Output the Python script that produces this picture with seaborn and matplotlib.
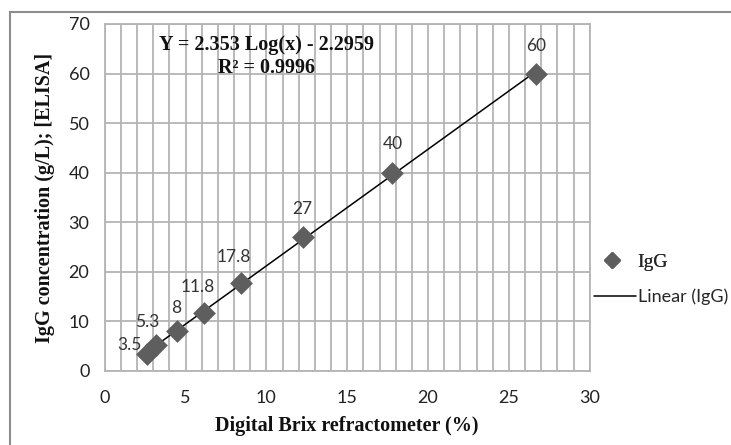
import matplotlib.pyplot as plt
import matplotlib.patches as mpatches
import matplotlib.lines as mlines
from matplotlib.ticker import MultipleLocator
import seaborn as sns
import numpy as np
import pandas as pd

# значения
brix = [2.6, 3.2, 4.45, 6.15, 8.45, 12.25, 17.8, 26.7]
igg = [3.5, 5.3, 8, 11.8, 17.8, 27, 40, 60]
point_labels = ['3.5', '5.3', '8', '11.8', '17.8', '27', '40', '60']
label_offsets = [(-17, 9), (-9, 23), (0, 23), (-6, 26), (-7, 26), (0, 28), (0, 29), (0, 28)]
x_ticks = [0, 5, 10, 15, 20, 25, 30]
y_ticks = [0, 10, 20, 30, 40, 50, 60, 70]

dataset = pd.DataFrame({'brix': brix, 'igg': igg})

sns.set_style('white')
plt.rcParams['font.family'] = ['Lato', 'DejaVu Sans']

fig = plt.figure(figsize=(7.31, 4.45), dpi=100)
ax = fig.add_axes([0.1432, 0.1663, 0.6635, 0.7798])

grid_color = '#b4b4b4'
point_color = '#5e5e5e'
serif = 'Liberation Serif'

sns.regplot(data=dataset, x='brix', y='igg', scatter=False, ci=None, truncate=True,
            line_kws={'color': 'black', 'linewidth': 1.1}, ax=ax)
sns.scatterplot(data=dataset, x='brix', y='igg', marker='D', s=135, color=point_color,
                edgecolor=point_color, linewidth=0, zorder=3, ax=ax)

for xv, yv, lab, off in zip(brix, igg, point_labels, label_offsets):
    ax.annotate(lab, (xv, yv), xytext=off, textcoords='offset pixels',
                ha='center', va='center', fontsize=12.5, color='#333333')

ax.set_xlim(0, 30)
ax.set_ylim(0, 70)
ax.set_xticks(x_ticks)
ax.set_yticks(y_ticks)
ax.xaxis.set_minor_locator(MultipleLocator(1))
ax.grid(True, which='major', color=grid_color, linewidth=1.3)
ax.grid(True, which='minor', axis='x', color=grid_color, linewidth=1.3)
ax.set_axisbelow(True)
for sp in ax.spines.values():
    sp.set_color(grid_color)
    sp.set_linewidth(1.3)
ax.tick_params(axis='both', which='major', length=5, width=1.3, color='#9a9a9a',
               labelsize=13, labelcolor='#222222', pad=6)
ax.tick_params(axis='x', which='major', pad=9)
ax.tick_params(axis='both', which='minor', length=0)

ax.set_xlabel('Digital Brix refractometer (%)', family=serif,
              fontweight='bold', fontsize=14.5, color='#111111', labelpad=7)
ax.set_ylabel('IgG concentration (g/L); [ELISA]', family=serif,
              fontweight='bold', fontsize=14.5, color='#111111', labelpad=10)

ax.text(0.333, 0.94, 'Y = 2.353 Log(x) - 2.2959', transform=ax.transAxes,
        ha='center', va='center', family=serif, fontweight='bold',
        fontsize=14.5, color='#111111')
ax.text(0.333, 0.873, 'R² = 0.9996', transform=ax.transAxes,
        ha='center', va='center', family=serif, fontweight='bold',
        fontsize=14.5, color='#111111')

# легенда справа, две строки по отдельности
h_pts = mlines.Line2D([], [], marker='D', linestyle='none', color=point_color, markersize=8)
h_line = mlines.Line2D([], [], color='black', linewidth=1.1)
leg1 = fig.legend([h_pts], ['IgG'], loc='center left', bbox_to_anchor=(0.816, 1 - 262 / 445),
                  frameon=False, handlelength=1.6, handletextpad=0.5, borderaxespad=0,
                  borderpad=0, prop={'family': serif, 'size': 14})
leg2 = fig.legend([h_line], ['Linear (IgG)'], loc='center left',
                  bbox_to_anchor=(594 / 731, 1 - 297 / 445), frameon=False,
                  handlelength=2.3, handletextpad=0.15, borderaxespad=0, borderpad=0,
                  prop={'size': 13})
fig.add_artist(leg1)

# внешняя рамка
frame = mpatches.Rectangle((10 / 731, -0.05), 1.1, 0.973 + 0.05, transform=fig.transFigure,
                           fill=False, edgecolor='#8c8c8c', linewidth=1.5)
fig.patches.append(frame)

fig.savefig('out.png', dpi=100)
